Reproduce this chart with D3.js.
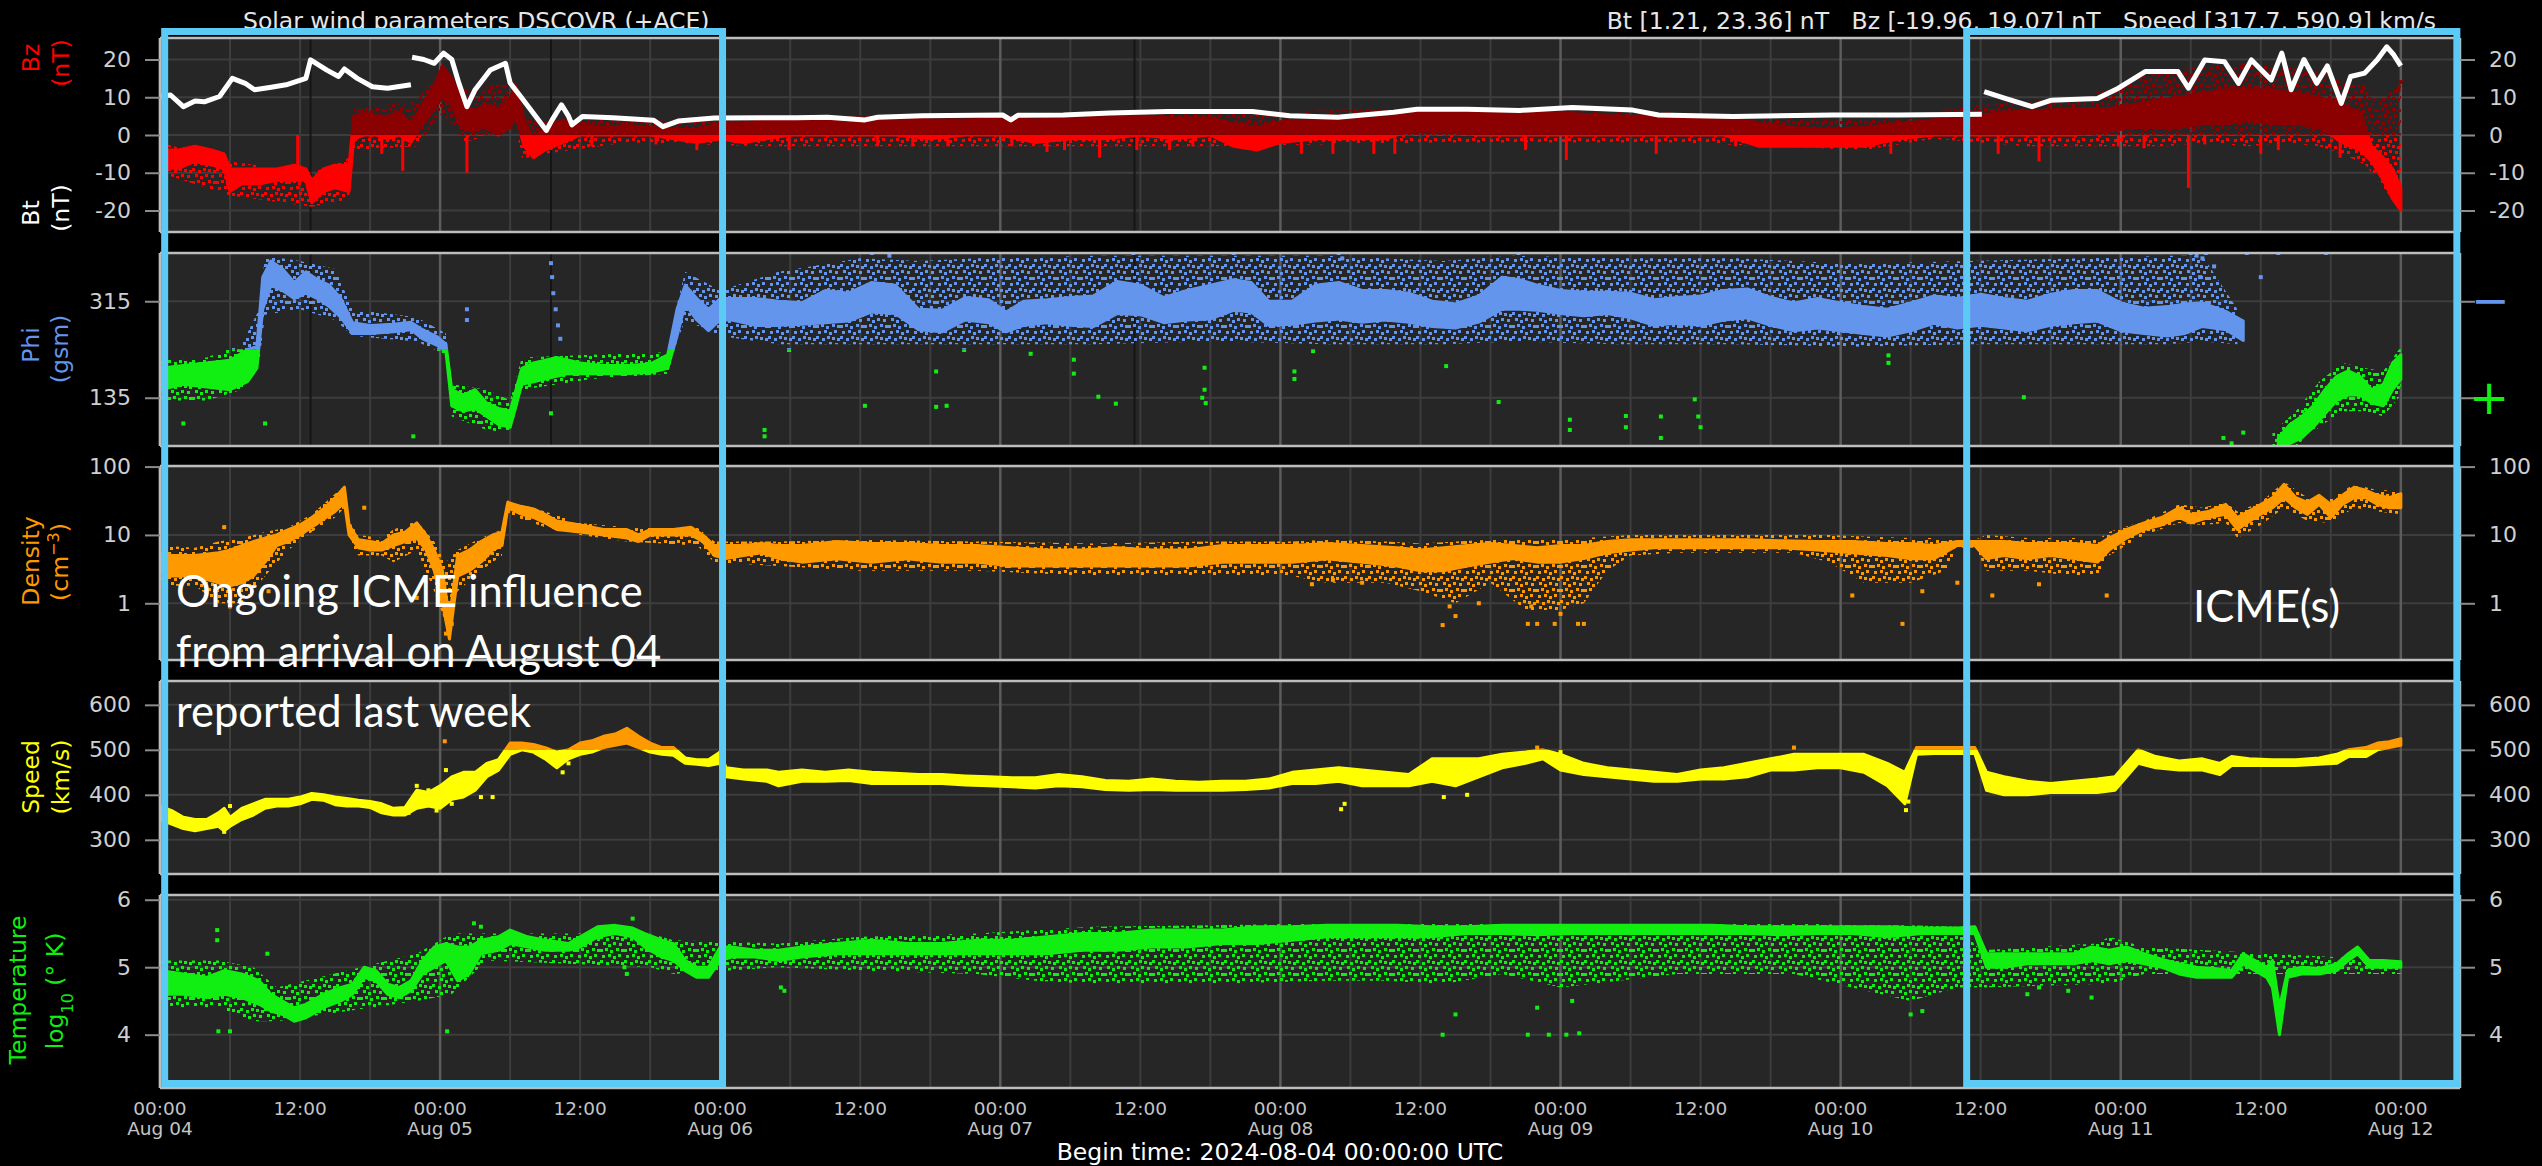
<!DOCTYPE html>
<html>
<head>
<meta charset="utf-8">
<script src="https://cdn.jsdelivr.net/npm/d3@7"></script>
<style>
  html, body { margin: 0; padding: 0; background: #000; }
  svg { display: block; }
</style>
</head>
<body>
<svg id="chart" width="2542" height="1166"></svg>
<script>
// ---------------------------------------------------------------------------
// Solar wind data, 2024-08-04 00:00 UTC onwards. Times are hours after start.
// Bands are [hour, low, high]; traces and points are [hour, value].
// "Band" = dense core of the 1-minute scatter, "Halo" = its sparse outer spread.
// ---------------------------------------------------------------------------

// Total field Bt (nT)
const btTrace = [
  [0,10.2],[0.9,10.6],[2,7.5],[3,9],[3.8,8.8],[5.1,10.2],[6.2,15],[7.3,13.7],[8.1,12],[9.4,12.6],
  [10.8,13.3],[12.5,15],[12.9,19.9],[14.3,17.2],[15.3,15.5],[15.8,17.5],[16.9,15],[18.2,12.8],
  [19.5,12.4],[21.5,13.3],[21.55,null],[21.6,20.6],[22.6,20],[23.5,19],[24.3,21.7],[25,20],
  [25.6,13.8],[26.3,7.5],[27,12],[28.3,17.2],[29.6,19],[30,13.8],[30.9,10.2],[32.2,4.9],[33.1,1.21],
  [33.6,4],[34.4,8],[35,5],[35.3,2.7],[36.2,4.9],[38.8,4.6],[42.3,3.9],[43.1,2.2],[44.4,3.7],
  [47.5,4.5],[51.8,4.6],[54.5,4.6],[57.2,4.7],[60.4,4.0],[61.5,4.7],[65.3,5.1],[72.2,5.3],[72.9,4.0],
  [73.5,5.2],[77.4,5.3],[81.4,5.8],[86.3,6.2],[93.6,6.2],[96.8,5.1],[100.9,4.7],[105.7,6.0],
  [107.7,6.8],[112,6.8],[116.5,6.5],[121,7.3],[126.2,6.6],[128.4,5.3],[134.8,4.9],[143.3,5.3],
  [149,5.3],[156.1,5.5],[156.2,null],[156.3,11.5],[158.1,9.7],[160.4,7.5],[162,9.2],[166,9.7],
  [167.8,12.4],[170.1,16.8],[172.9,16.8],[173.8,12.4],[175.2,19.9],[176.9,19.4],[178.1,13.7],
  [179.2,19.9],[180.9,14.6],[181.8,21.7],[182.6,12],[183.7,20],[184.8,13.7],[185.7,18.3],
  [186.9,8.4],[187.7,15.5],[188.9,16.4],[190,20],[190.8,23.36],[191.4,21.2],[192,18.3]
];

// Bz (nT)
const bzBand = [
  [0,-8,-4],[1.5,-9,-4],[3,-7,-3],[4.5,-8,-4],[5.5,-9,-5],[6,-15,-9],[7,-13,-9],[8.5,-13,-9],
  [10,-12,-9],[11.5,-12,-8],[12.5,-12,-9],[13,-18,-12],[14,-15,-9],[15,-14,-8],[16.2,-15,-8],
  [16.6,-1,5],[17.5,0,6],[18.5,0,5],[19.5,-1,5],[20.5,0,6],[21.5,-2,3],[22.5,3,8],[23.3,6,12],
  [24.2,10,18],[25,8,15],[25.8,2,10],[26.8,1,6],[27.8,2,8],[29,0,7],[30,2,10],[30.5,5,13],
  [31.2,-3,4],[32,-6,-1],[33,-4,2],[34.5,-2,4],[36,0,3],[38,0,2],[40,0,2.5],[42,0,2],[44,-1,1.5],
  [46,-2,1.5],[48,-1,3],[50,-2,3],[52,-1,4],[54,0,4],[57,0,4.5],[60,0,4],[63,0,4.5],[66,-1,4],
  [69,0,4],[72,0,4.5],[75,-2,4],[78,-1,4.5],[81,-1,4.5],[84,0,5],[87,-1,4.5],[90,0,4.5],[92,-3,3],
  [94,-4,2],[96,-2,3.5],[99,-1,4],[102,-1,4],[105,-1,4.5],[107,1,6],[110,1,6],[113,0,6],
  [116,0,5.5],[119,0,6],[122,0,5.5],[125,0,5],[128,0,5],[131,0,5],[134,0,5],[137,-3,3],[140,-3,2],
  [143,-3,1.5],[146,-3,2],[149,-1,3],[152,0,4],[155,0,5],[158,0,6],[161,0,6.5],[164,0,7],[167,1,7],
  [169,2,8],[171,2,9],[173,2,10],[175,3,11],[177,3,12],[179,4,12],[181,3,12],[183,3,11],
  [185,2,10],[187,-2,8],[188.5,-4,6],[189.5,-7,-3],[190.5,-12,-6],[191.3,-17,-9],[192,-19.96,-14]
];
const bzHalo = [
  [0,-10,-2],[6,-16,-7],[13,-19,-10],[16.2,-17,-6],[16.6,-4,7],[22,-3,9],[24.2,6,19],[26,-2,12],
  [30.5,2,14],[31,-6,5],[33,-5,4],[40,-2,4],[52,-3,5],[90,-3,6],[110,-2,7],[130,-2,6],
  [146,-4,4],[152,-1,6],[156,-2,8],[160,-3,9],[164,-3,10],[167,-3,12],[169,-3,15],[172,-3,17],
  [175,-2,18],[179,-3,19.07],[182,-2,18],[185,-3,17],[187,-5,14],[189,-8,13],[190,-12,9],
  [192,-19.96,14]
];
// Bz short excursions below the main band (nT)
const bzDips = [
  [11.8,-10],[19,-5],[20.8,-9.5],[26.3,-10],[31.5,-6],[33.5,-4],[37,-3],[42.5,-2.5],[46,-4],
  [53.9,-4],[61.5,-3],[64.5,-3],[67.5,-3],[73,-3],[76,-4.5],[77.5,-4],[80.5,-6],[83.7,-4],
  [86.5,-4],[88.5,-3],[97.8,-5],[100.5,-5],[104,-5],[105.8,-5],[117,-4],[120.5,-6.6],[128.2,-5],
  [135,-3],[148.3,-5],[157.5,-5],[161,-7],[167.8,-3],[170,-3.5],[173.8,-14],[175.2,-2.5],
  [180,-5],[181.5,-4],[186.8,-6]
];
const bzPoints = [[192,14],[191.8,12]];

// Phi GSM (deg, drawn on a 45..405 axis)
const phiBand = [
  [0,150,190],[2,160,195],[4,155,200],[6,150,205],[7.5,165,225],[8.3,190,230],[8.8,300,360],
  [9.5,345,390],[10.5,335,375],[11.5,320,350],[12.5,330,370],[13.5,320,355],[14.5,305,345],
  [15.5,285,320],[16.5,255,275],[18,255,270],[20,258,272],[21.5,262,276],[22.5,245,262],
  [23.8,232,248],[24.5,220,235],[25,120,150],[26,110,140],[27,115,150],[28,100,125],[29,85,115],
  [30,80,110],[31,160,190],[32,165,200],[33,170,205],[34,175,210],[35,180,205],[36,180,200],
  [38,180,195],[40,180,195],[42,182,198],[43.5,190,215],[44.3,250,300],[45,310,345],[46,280,320],
  [47,260,300],[48,280,320],[49,280,320],[51,270,320],[53,270,315],[55,272,312],[57,275,335],
  [59,278,330],[61,295,350],[63,292,345],[65,262,300],[67,258,298],[69,280,322],[71,275,318],
  [72.5,258,295],[74,270,315],[76,275,318],[78,270,322],[80,268,325],[82,292,352],[84,290,345],
  [86,275,322],[88,280,335],[90,282,345],[92,298,355],[93.5,295,350],[95,270,315],[97,272,315],
  [99,278,345],[101,282,350],[103,276,335],[105,280,335],[107,276,330],[109,268,315],[111,265,310],
  [113,276,325],[115,300,360],[116.5,300,355],[118,298,345],[120,292,335],[122,288,332],
  [124,292,332],[126,284,330],[128,270,318],[130,274,322],[132,270,325],[134,280,335],
  [136,284,338],[138,270,322],[140,260,312],[142,265,320],[144,260,312],[146,255,305],
  [148,250,300],[150,260,312],[152,274,325],[154,265,320],[156,270,328],[158,265,320],
  [160,260,315],[162,270,328],[164,275,335],[166,278,335],[168,260,312],[170,255,302],
  [172,250,305],[173.5,255,310],[175,268,312],[177,262,296],[178.5,242,278],[178.6,null,null],
  [181.5,45,60],[182.5,50,85],[183.5,60,100],[184.5,80,120],[185.5,105,150],[186.5,130,175],
  [187.5,140,185],[188.5,140,175],[189.5,125,150],[190.5,120,160],[191.3,150,200],[192,170,215]
];
const phiHalo = [
  [0,130,205],[4,130,210],[7,150,235],[8.5,200,300],[9,290,400],[12,300,390],[15,280,375],
  [16.5,250,300],[22,240,285],[24.5,215,255],[25,100,160],[28,75,150],[30,70,130],[31,150,210],
  [37,170,215],[43.5,180,220],[44.3,240,310],[45,280,370],[48,250,335],[53,235,370],[60,235,395],
  [65,235,390],[70,235,395],[80,235,400],[90,240,400],[100,235,400],[110,235,390],[116,240,400],
  [125,235,395],[135,235,395],[145,230,385],[155,235,390],[165,235,395],[172,235,400],
  [175,240,400],[178,235,300],[178.6,null,null],[181,45,70],[183,45,110],[185,80,165],
  [187,110,200],[189,110,190],[190.5,100,185],[192,140,230]
];
const phiPoints = [
  [2,87],[9,87],[21.7,63],[26.3,300],[26.3,280],[33.5,386],[33.6,360],[33.7,330],[33.9,300],
  [34.1,270],[34.3,245],[33.5,106],[51.8,75],[51.8,63],[53.9,224],[60.4,120],[61,405],[62.5,400],
  [66.5,184],[66.5,118],[67.4,120],[68.9,224],[74.6,217],[78.3,206],[78.3,180],[80.4,137],
  [81.9,124],[83.4,405],[89.5,191],[89.5,150],[89.3,135],[89.6,125],[92,405],[97.2,184],
  [97.2,170],[98.8,222],[101,405],[101.3,395],[110.2,194],[114.7,127],[116.4,405],[120.8,94],
  [120.8,75],[125.6,101],[125.6,80],[128.6,100],[128.6,60],[131.5,132],[131.8,100],[132,80],
  [148.1,214],[148.1,200],[159.7,136],[174,405],[174.5,400],[175,395],[175.3,405],[176,380],
  [174.8,360],[178.8,405],[180,360],[181.5,405],[185.6,405],[176.8,60],[177.5,50],[178.5,70]
];

// Proton density (cm^-3)
const densityBand = [
  [0,2.8,5.5],[1,2.5,5],[3,2.5,5],[5,2,5.5],[6,1.8,6],[7,2,7],[8,2.5,8],[9,4,9],[10,7,10],
  [11,8,12],[12,10,14],[13,13,18],[14,17,24],[15,22,35],[15.8,30,50],[16.2,10,14],[17,6.5,8.5],
  [18,6,8],[19,6,7.5],[20,7,10],[21,8,11],[22,9,15],[22.8,6,10],[23.5,3,6],[24.2,1,3],
  [24.8,0.3,0.6],[25.5,2.5,5],[26.5,3,6],[27.5,4,8],[28.5,6,10],[29.3,7,11],[29.8,25,30],
  [31,20,26],[32,18,24],[33,15,20],[34,12,16],[36,11,14],[38,10,12],[40,9,12],[41,8,10],
  [42,10,12],[44,10,12],[45.5,10,13],[46.5,8,10],[47.5,5,7],[48.5,4.5,7],[50,5,7],[51.5,5.5,7.5],
  [53,4.5,7],[55,4,7],[58,4.5,8],[61,4,7.5],[64,4.5,7.5],[67,4,7],[70,4,7],[73,3.5,6.5],
  [76,3.5,6],[79,3.5,6],[82,3.5,6.5],[85,3.5,6],[88,3.5,6],[91,4,7],[94,4,7],[97,4,7],
  [100,4.5,7.5],[103,4,7],[106,3.5,6.5],[108,3,6],[110,3,6.5],[112,3.5,7],[114,4,7.5],
  [116,4.5,7],[118,4,6.5],[120,4,7],[122,4.5,7],[124,5.5,8],[126,6,8.5],[128,6.5,8.5],
  [130,6.5,8.5],[133,6.5,8.5],[136,6.5,8.5],[139,6.5,8.2],[142,6,8],[145,5.5,8],[148,5,7.5],
  [150,4.5,7.5],[152,4.5,7],[154,7,8],[155.5,7,8],[156.5,4.5,8],[158,5,8],[160,4.5,7.5],
  [162,5,7.5],[164,4.5,7.5],[166,4,7],[167,6,9],[168.5,9,12],[170,12,15],[171.5,14,18],
  [173,18,25],[174,15,20],[175.5,18,22],[177,20,28],[178,12,18],[179.5,18,25],[181,25,35],
  [182,35,55],[183,25,35],[184,20,30],[185,28,38],[186,18,28],[187,28,38],[188,35,50],[189,35,45],
  [190,28,38],[191,25,35],[192,25,40]
];
const densityHalo = [
  [0,1.8,7],[3,1.8,6.5],[5,1,8],[7,1,9],[9,2.5,11],[11,6,13],[13,11,20],[15,18,40],[15.8,25,52],
  [16.2,8,16],[17,5,10],[19,5,9],[20,4,12],[22,6,16],[23.5,1.5,8],[24.5,0.5,4],[25.5,1.5,6],
  [27.5,3,9],[29.3,5,12],[29.8,20,32],[33,13,22],[36,10,15],[40,8,13],[46,7,13],[47.5,4,8],
  [53,3.5,8],[60,3,8.5],[70,3,8],[80,2.5,7.5],[90,2.5,8],[97,2.5,8],[100,2,8.5],[105,2,8],
  [108,1.5,7.5],[111,1,8],[114,2,8.5],[117,0.8,8.5],[120,0.8,8.5],[122,1,9],[124,3,9.5],
  [126,5,10],[130,5.5,10],[140,5.5,10],[143,4,10],[146,2,9.5],[150,2,9],[153,3,9],[154,6.5,8.5],
  [155.5,6.5,8.5],[156.5,3,10],[160,3,9],[164,2.5,9],[166,2.5,8.5],[167,5,11],[170,10,16],
  [173,15,28],[175,14,25],[177,15,30],[178,9,22],[180,14,30],[182,25,60],[184,16,35],[186,15,35],
  [188,25,55],[190,22,45],[192,20,45]
];
const densityPoints = [
  [24.5,0.36],[24.7,0.4],[25,0.5],[22,1.2],[6,0.9],[7,1.0],[9.3,1.5],[5.5,13],[17.5,25],
  [109.9,0.48],[110.5,0.9],[111,0.65],[113,1.0],[117.2,0.5],[117.5,0.9],[118,0.5],[119.5,0.5],
  [120,0.7],[121.5,0.5],[122,0.5],[98.7,1.9],[100.5,2.2],[103,2],[145,1.3],[149.3,0.5],[151,1.5],
  [154,2],[157,1.3],[161,1.9],[166.8,1.3]
];

// Bulk speed (km/s)
const speedBand = [
  [0,345,375],[1,335,365],[2,325,350],[3,320,345],[4,325,345],[5,330,360],[5.5,320,370],
  [6,330,350],[7,345,370],[8,355,380],[9,370,390],[10,375,390],[11,375,390],[12,380,395],
  [13,390,403],[14,388,400],[15,378,395],[16,375,392],[17,375,388],[18,372,385],[19,360,380],
  [20,355,370],[21,355,372],[22,370,410],[23,375,405],[24,370,420],[25,390,440],[26,395,450],
  [27,410,450],[28,440,470],[29,455,478],[30,490,515],[31,500,515],[32,495,512],[33,480,505],
  [34,460,495],[35,480,500],[36,490,515],[37,495,520],[38,505,530],[39,510,535],[40,515,548],
  [41,505,530],[42,495,515],[43,490,505],[44,488,505],[45,470,482],[46,468,478],[47,465,478],
  [48,470,495],[48.5,440,460],[50,435,455],[52,430,455],[53,420,450],[55,430,455],[57,430,450],
  [59,432,455],[61,425,450],[63,425,448],[65,425,445],[67,425,445],[69,422,442],[71,420,440],
  [73,418,438],[75,415,438],[77,420,445],[79,418,440],[81,412,432],[83,410,430],[85,412,435],
  [87,410,430],[89,410,428],[91,410,430],[93,412,430],[95,415,435],[97,425,450],[99,425,455],
  [101,430,460],[103,420,455],[105,420,450],[107,420,445],[109,430,480],[111,420,480],
  [113,440,480],[115,460,490],[117,470,495],[118.5,480,500],[120,455,490],[122,445,470],
  [124,440,460],[126,435,455],[128,430,450],[130,430,445],[132,435,455],[134,435,460],
  [136,440,470],[138,455,480],[140,455,490],[142,460,490],[144,460,490],[146,450,490],
  [148,420,470],[149.5,380,450],[150.5,490,505],[152,492,505],[154,492,505],[155.5,492,505],
  [156.5,410,450],[158,400,440],[160,400,430],[162,405,425],[164,405,430],[166,405,435],
  [167.5,410,440],[168.5,440,470],[169.5,470,500],[171,460,485],[173,455,475],[175,455,480],
  [176.5,445,470],[177.5,465,485],[179,465,480],[181,465,478],[183,465,478],[185,468,482],
  [186.5,470,490],[187.5,485,500],[189,485,505],[190,500,515],[191,505,518],[192,510,525]
];
const speedPoints = [
  [5.5,317.7],[6,375],[21.3,360],[22,420],[23,410],[23.7,365],[24.5,455],[25,380],[27.5,395],
  [28.5,395],[34.5,450],[35,470],[48,492],[101.2,368],[101.5,380],[110,395],[112,400],
  [149.6,366],[149.8,385],[120,495],[118,505],[140,505],[24.5,590.9],[24.4,519]
];

// Proton temperature (log10 K)
const tempBand = [
  [0,4.6,4.95],[2,4.6,4.9],[4,4.55,4.85],[5.5,4.6,4.95],[7,4.55,4.9],[8.5,4.45,4.8],[9.5,4.35,4.6],
  [10.5,4.3,4.5],[11.5,4.2,4.4],[12.5,4.25,4.45],[14,4.4,4.6],[15.5,4.5,4.7],[16.5,4.6,4.75],
  [17.5,4.85,5.0],[18.5,4.8,4.95],[19.5,4.6,4.75],[20.5,4.55,4.7],[21.5,4.65,4.8],[22.5,4.9,5.1],
  [23.5,5.0,5.3],[24.5,5.1,5.35],[25.5,4.8,5.3],[26.5,4.9,5.3],[27.5,5.2,5.4],[29,5.25,5.45],
  [30,5.35,5.55],[31.5,5.3,5.45],[33,5.25,5.4],[35,5.25,5.35],[36,5.3,5.45],[37.5,5.45,5.6],
  [39,5.5,5.62],[40.5,5.45,5.58],[41.5,5.3,5.5],[43,5.15,5.4],[44,5.1,5.35],[45,4.95,5.1],
  [46,4.85,5.0],[47,4.85,5.0],[48,5.1,5.3],[49,5.15,5.3],[51,5.15,5.25],[53,5.1,5.25],
  [55,5.15,5.3],[58,5.2,5.35],[61,5.2,5.4],[64,5.2,5.35],[67,5.2,5.35],[70,5.2,5.4],[73,5.2,5.4],
  [76,5.2,5.45],[79,5.25,5.5],[82,5.25,5.5],[85,5.3,5.55],[88,5.3,5.55],[91,5.35,5.55],
  [94,5.35,5.6],[97,5.4,5.6],[100,5.45,5.62],[103,5.45,5.62],[106,5.45,5.62],[109,5.45,5.6],
  [112,5.5,5.6],[115,5.5,5.62],[118,5.48,5.62],[121,5.5,5.62],[124,5.5,5.62],[127,5.5,5.62],
  [130,5.5,5.62],[133,5.5,5.62],[136,5.5,5.6],[139,5.48,5.6],[142,5.5,5.6],[145,5.5,5.6],
  [148,5.45,5.6],[151,5.5,5.58],[154,5.5,5.58],[155.5,5.5,5.6],[156.5,5.0,5.2],[158,5.0,5.2],
  [160,5.05,5.2],[162,5.05,5.2],[164,5.05,5.2],[165.5,5.1,5.3],[167,5.05,5.25],[168.5,5.1,5.3],
  [170,5.05,5.2],[171.5,5.0,5.12],[173,4.9,5.05],[174.5,4.85,5.0],[176,4.85,4.98],
  [177.5,4.85,4.95],[178.5,5.05,5.2],[179.5,4.95,5.1],[180.5,4.85,5.0],[181,4.7,5.1],
  [181.6,4.0,4.4],[182.3,4.85,4.95],[183.5,4.9,5.0],[185,4.9,4.98],[186.5,4.95,5.05],
  [187.5,5.1,5.2],[188.3,5.2,5.3],[189.3,5.0,5.1],[190.5,5.0,5.1],[192,5.0,5.08]
];
const tempHalo = [
  [0,4.4,5.1],[5,4.4,5.1],[8,4.2,5.0],[10,4.2,4.7],[22,4.5,5.2],[25,4.6,5.5],[28,5.1,5.5],
  [42,5.0,5.5],[44,4.9,5.4],[53,5.0,5.35],[60,4.95,5.45],[70,4.9,5.5],[75,4.8,5.55],[80,4.75,5.6],
  [90,4.75,5.62],[100,4.8,5.65],[105,4.8,5.65],[110,4.75,5.65],[115,4.9,5.65],[120,4.7,5.65],
  [130,4.9,5.65],[140,4.9,5.65],[145,4.7,5.62],[150,4.5,5.62],[154,4.7,5.6],[156,4.7,5.25],
  [166,4.75,5.35],[167,4.75,5.45],[170,4.9,5.3],[192,4.9,5.1]
];
const tempPoints = [
  [4.9,5.55],[4.9,5.4],[5,4.05],[6,4.05],[9.2,5.2],[24.6,4.05],[26.9,5.65],[27.5,5.6],[40.5,5.72],
  [39.8,5.0],[40,4.9],[53.2,4.7],[53.5,4.65],[109.9,4.0],[117.2,4.0],[119,4.0],[120.5,4.0],
  [121.6,4.02],[111,4.3],[118,4.4],[121,4.5],[150,4.3],[151,4.35],[160,4.6],[161,4.7],
  [163.5,4.65],[165.5,4.55]
];

// Short magnetometer gaps
const gapHours = [12.9, 33.5, 83.5];

// Axis ticks
const magTicks = [20, 10, 0, -10, -20];
const phiTicks = [315, 135];
const densityTicks = [100, 10, 1];
const speedTicks = [600, 500, 400, 300];
const tempTicks = [6, 5, 4];
const dayLabels = ["Aug 04","Aug 05","Aug 06","Aug 07","Aug 08","Aug 09","Aug 10","Aug 11","Aug 12"];

// Event annotations: highlighted intervals in hours
const eventNotes = ["Ongoing ICME influence", "from arrival on August 04", "reported last week"];
const eventLabel = "ICME(s)";
const eventWindows = [[0.4, 48.2], [154.8, 196.8]];

// ---------------------------------------------------------------------------
const svg = d3.select("#chart");
const FONT = "'DejaVu Sans', sans-serif";
const col = {
  plot: "#262626", grid: "#3d3d3d", gridDay: "#5c5c5c", spine: "#bdbdbd", tick: "#8c8c8c",
  tickText: "#cfcfcf", bt: "#ffffff", bzPos: "#8b0000", bzNeg: "#ff0000", phiAway: "#6495ed",
  phiToward: "#11ee11", density: "#ff9900", speed: "#ffff00", speedFast: "#ff9900",
  temp: "#11ee11", box: "#5bcbf5"
};

const T0 = Date.UTC(2024, 7, 4);
const at = h => new Date(T0 + h * 3600e3);
const PL = 160, PR = 2460;
const x = d3.scaleUtc().domain([at(0), at(197.07)]).range([PL, PR]);

svg.append("rect").attr("width", 2542).attr("height", 1166).attr("fill", "#000");

const panels = [
  { id: "mag", top: 38, bottom: 232, y: d3.scaleLinear().domain([-25.7, 25.7]).range([232, 38]), ticks: magTicks },
  { id: "phi", top: 253, bottom: 446, y: d3.scaleLinear().domain([45, 405]).range([446, 253]), ticks: phiTicks },
  { id: "den", top: 466, bottom: 660, y: d3.scaleLog().domain([0.148, 102]).range([660, 466]), ticks: densityTicks },
  { id: "spd", top: 681, bottom: 874, y: d3.scaleLinear().domain([224, 653]).range([874, 681]), ticks: speedTicks },
  { id: "tmp", top: 895, bottom: 1088, y: d3.scaleLinear().domain([3.21, 6.07]).range([1088, 895]), ticks: tempTicks }
];
const P = Object.fromEntries(panels.map(p => [p.id, p]));

const defs = svg.append("defs");
function clipRect(id, y0, y1) {
  defs.append("clipPath").attr("id", id).append("rect")
    .attr("x", PL).attr("y", y0).attr("width", PR - PL).attr("height", y1 - y0);
  return `url(#${id})`;
}
// speckled fill used for the sparse outer spread of a scatter series
const speckleCells = [
  [0,0],[6,2],[11,0],[16,1],[21,2],[3,6],[8,8],[13,6],[19,7],
  [0,13],[5,12],[10,14],[16,12],[21,13],[2,19],[8,18],[13,20],[18,18]
];
function speckle(id, color) {
  const pat = defs.append("pattern").attr("id", id).attr("patternUnits", "userSpaceOnUse")
    .attr("width", 24).attr("height", 24);
  speckleCells.forEach(([a, b]) => pat.append("rect").attr("x", a).attr("y", b)
    .attr("width", 3).attr("height", 3).attr("fill", color));
  return `url(#${id})`;
}

const sixHours = d3.utcHour.every(6).range(at(0), at(197.07));

panels.forEach(p => {
  const g = svg.append("g");
  g.append("rect").attr("x", PL).attr("y", p.top).attr("width", PR - PL)
    .attr("height", p.bottom - p.top).attr("fill", col.plot);
  g.selectAll(".hg").data(p.ticks).join("line")
    .attr("x1", PL).attr("x2", PR).attr("y1", d => p.y(d)).attr("y2", d => p.y(d))
    .attr("stroke", col.grid).attr("stroke-width", 2);
  g.selectAll(".vg").data(sixHours).join("line")
    .attr("x1", d => x(d)).attr("x2", d => x(d)).attr("y1", p.top).attr("y2", p.bottom)
    .attr("stroke", d => d.getUTCHours() === 0 ? col.gridDay : col.grid)
    .attr("stroke-width", d => d.getUTCHours() === 0 ? 2.5 : 2);
  p.g = g.append("g").attr("clip-path", clipRect("clip-" + p.id, p.top, p.bottom));
});

["mag", "phi"].forEach(id => {
  P[id].g.selectAll(".gap").data(gapHours).join("line")
    .attr("x1", d => x(at(d))).attr("x2", d => x(at(d)))
    .attr("y1", P[id].top).attr("y2", P[id].bottom)
    .attr("stroke", "#151515").attr("stroke-width", 2);
});

function band(g, rows, y, fill, edgeColor, edge) {
  const area = d3.area().defined(d => d[1] != null)
    .x(d => x(at(d[0]))).y0(d => y(d[1])).y1(d => y(d[2]));
  g.append("path").datum(rows).attr("d", area).attr("fill", fill)
    .attr("stroke", edge ? edgeColor : "none").attr("stroke-width", edge || 0)
    .attr("stroke-linejoin", "round");
}
function dots(g, rows, y, fill, size) {
  g.selectAll(null).data(rows).join("rect")
    .attr("x", d => x(at(d[0])) - size / 2).attr("y", d => y(d[1]) - size / 2)
    .attr("width", size).attr("height", size).attr("fill", fill);
}
function split(p, threshold, idA, idB) {
  const yy = p.y(threshold);
  const hi = p.g.append("g").attr("clip-path", clipRect(idA, p.top, yy));
  const lo = p.g.append("g").attr("clip-path", clipRect(idB, yy, p.bottom));
  return [hi, lo];
}

// --- Bz / Bt
{
  const p = P.mag;
  const [pos, neg] = split(p, 0, "bz-pos", "bz-neg");
  [[pos, col.bzPos, "sp-bzpos"], [neg, col.bzNeg, "sp-bzneg"]].forEach(([g, c, id]) => {
    band(g, bzHalo, p.y, speckle(id, c));
    band(g, bzBand, p.y, c, c, 3);
    g.selectAll(null).data(bzDips).join("rect")
      .attr("x", d => x(at(d[0])) - 1.5).attr("width", 3)
      .attr("y", p.y(0)).attr("height", d => p.y(d[1]) - p.y(0))
      .attr("fill", c);
    dots(g, bzPoints, p.y, c, 4);
  });
  const line = d3.line().defined(d => d[1] != null).x(d => x(at(d[0]))).y(d => p.y(d[1]));
  p.g.append("path").datum(btTrace).attr("d", line).attr("fill", "none")
    .attr("stroke", col.bt).attr("stroke-width", 5).attr("stroke-linejoin", "round");
}

// --- Phi
{
  const p = P.phi;
  const [away, toward] = split(p, 225, "phi-away", "phi-toward");
  [[away, col.phiAway, "sp-away"], [toward, col.phiToward, "sp-toward"]].forEach(([g, c, id]) => {
    band(g, phiHalo, p.y, speckle(id, c));
    band(g, phiBand, p.y, c, c, 3);
    dots(g, phiPoints, p.y, c, 4);
  });
}

// --- Density
{
  const p = P.den;
  band(p.g, densityHalo, p.y, speckle("sp-den", col.density));
  band(p.g, densityBand, p.y, col.density, col.density, 3);
  dots(p.g, densityPoints, p.y, col.density, 4);
}

// --- Speed
{
  const p = P.spd;
  const [fast, slow] = split(p, 500, "spd-fast", "spd-slow");
  [[fast, col.speedFast], [slow, col.speed]].forEach(([g, c]) => {
    band(g, speedBand, p.y, c, c, 3);
    dots(g, speedPoints, p.y, c, 4);
  });
}

// --- Temperature
{
  const p = P.tmp;
  band(p.g, tempHalo, p.y, speckle("sp-tmp", col.temp));
  band(p.g, tempBand, p.y, col.temp, col.temp, 3);
  dots(p.g, tempPoints, p.y, col.temp, 4);
}

// spines and axes
panels.forEach(p => {
  const g = svg.append("g");
  [p.top, p.bottom].forEach(yy => g.append("line").attr("x1", PL).attr("x2", PR)
    .attr("y1", yy).attr("y2", yy).attr("stroke", col.spine).attr("stroke-width", 2.5));
  [PL, PR].forEach(xx => g.append("line").attr("x1", xx).attr("x2", xx)
    .attr("y1", p.top).attr("y2", p.bottom).attr("stroke", col.spine).attr("stroke-width", 2.5));

  const fmt = d => String(d);
  const left = d3.axisLeft(p.y).tickValues(p.ticks).tickFormat(fmt).tickSize(15).tickPadding(14);
  const right = d3.axisRight(p.y).tickValues(p.ticks).tickFormat(p.id === "phi" ? () => "" : fmt)
    .tickSize(15).tickPadding(14);
  [[left, PL], [right, PR]].forEach(([ax, xx]) => {
    const a = svg.append("g").attr("transform", `translate(${xx},0)`).call(ax);
    a.select(".domain").remove();
    a.selectAll(".tick line").attr("stroke", col.tick).attr("stroke-width", 2);
    a.selectAll(".tick text").attr("fill", col.tickText).style("font-family", FONT).style("font-size", "22px");
  });
});

// sector symbols on the phi axis
svg.append("text").attr("x", 2471).attr("y", P.phi.y(315)).attr("dy", "0.32em")
  .attr("fill", col.phiAway).style("font-family", FONT).style("font-size", "46px").text("\u2212");
svg.append("text").attr("x", 2469).attr("y", P.phi.y(135)).attr("dy", "0.34em")
  .attr("fill", col.phiToward).style("font-family", FONT).style("font-size", "48px").text("+");

// axis titles (two rotated lines each)
function axisTitle(cx, cy, color, build) {
  const t = svg.append("text").attr("transform", `translate(${cx},${cy}) rotate(-90)`)
    .attr("text-anchor", "middle").attr("dy", "0.36em").attr("fill", color)
    .style("font-family", FONT).style("font-size", "23.5px");
  build(t);
}
axisTitle(31, 58, col.bzNeg, t => t.text("Bz"));
axisTitle(61, 63, col.bzNeg, t => t.text("(nT)"));
axisTitle(31, 213, col.bt, t => t.text("Bt"));
axisTitle(61, 208, col.bt, t => t.text("(nT)"));
axisTitle(31, 345, col.phiAway, t => t.text("Phi"));
axisTitle(60, 349, col.phiAway, t => t.text("(gsm)"));
axisTitle(31, 561, col.density, t => t.text("Density"));
axisTitle(60, 562, col.density, t => {
  t.append("tspan").text("(cm");
  t.append("tspan").attr("baseline-shift", "super").style("font-size", "16px").text("\u22123");
  t.append("tspan").text(")");
});
axisTitle(31, 777, col.speed, t => t.text("Speed"));
axisTitle(61, 777, col.speed, t => t.text("(km/s)"));
axisTitle(18, 990, col.temp, t => t.text("Temperature"));
axisTitle(55, 991, col.temp, t => {
  t.append("tspan").text("log");
  t.append("tspan").attr("baseline-shift", "sub").style("font-size", "16px").text("10");
  t.append("tspan").text(" (\u00b0 K)");
});

// time axis labels
const xg = svg.append("g").style("font-family", FONT).style("font-size", "18.5px")
  .attr("fill", "#c4c4c4").attr("text-anchor", "middle");
dayLabels.forEach((lab, i) => {
  const xx = x(at(24 * i));
  xg.append("text").attr("x", xx).attr("y", 1114.5).text("00:00");
  xg.append("text").attr("x", xx).attr("y", 1135).text(lab);
  if (i < dayLabels.length - 1)
    xg.append("text").attr("x", x(at(24 * i + 12))).attr("y", 1114.5).text("12:00");
});
svg.append("text").attr("x", 1280).attr("y", 1159.5).attr("text-anchor", "middle")
  .attr("fill", "#ffffff").style("font-family", FONT).style("font-size", "23.5px")
  .text("Begin time: 2024-08-04 00:00:00 UTC");

// titles; the right one reports the extremes of the drawn data
const btVals = btTrace.map(d => d[1]).filter(v => v != null);
const bzVals = bzBand.concat(bzHalo).flatMap(d => [d[1], d[2]])
  .concat(bzDips.map(d => d[1]), bzPoints.map(d => d[1]));
const vVals = speedBand.flatMap(d => [d[1], d[2]]).concat(speedPoints.map(d => d[1]));
const rangeText = (vals, digits) => `[${d3.min(vals).toFixed(digits)}, ${d3.max(vals).toFixed(digits)}]`;
svg.append("text").attr("x", 243).attr("y", 28.5).attr("fill", "#e6e6e6")
  .style("font-family", FONT).style("font-size", "23.5px")
  .text("Solar wind parameters DSCOVR (+ACE)");
svg.append("text").attr("x", 2436).attr("y", 28.5).attr("text-anchor", "end").attr("fill", "#e6e6e6")
  .style("font-family", FONT).style("font-size", "23.5px").style("white-space", "pre")
  .text(`Bt ${rangeText(btVals, 2)} nT   Bz ${rangeText(bzVals, 2)} nT   Speed ${rangeText(vVals, 1)} km/s`);

// event windows
svg.selectAll(".win").data(eventWindows).join("rect")
  .attr("x", d => x(at(d[0]))).attr("y", 31.5)
  .attr("width", d => x(at(d[1])) - x(at(d[0]))).attr("height", 1052)
  .attr("fill", "none").attr("stroke", col.box).attr("stroke-width", 7);

// event notes
const noteFont = "Lato, 'Open Sans', sans-serif";
eventNotes.forEach((s, i) => {
  svg.append("text").attr("x", 176).attr("y", 606.7 + 60 * i).attr("fill", "#ffffff")
    .style("font-family", noteFont).style("font-size", "43.5px").text(s);
});
svg.append("text").attr("x", 2193).attr("y", 621.6).attr("fill", "#ffffff")
  .style("font-family", noteFont).style("font-size", "43.5px").text(eventLabel);
</script>
</body>
</html>
